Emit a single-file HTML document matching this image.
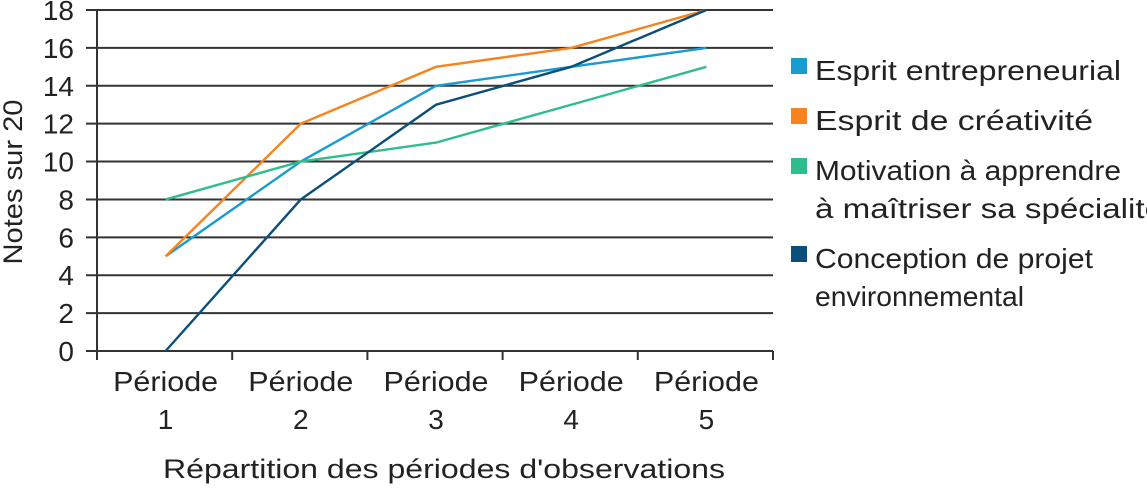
<!DOCTYPE html>
<html><head><meta charset="utf-8"><style>
body{margin:0;background:#fff;}
svg text{font-family:"Liberation Sans","DejaVu Sans",sans-serif;fill:#222;}
</style></head><body>
<svg id="chart" width="1147" height="488" viewBox="0 0 1147 488">
<g id="grid"></g><g id="series"></g><g id="legend"></g>
<text transform="translate(22,182) rotate(-90)" text-anchor="middle" font-size="27" textLength="165" lengthAdjust="spacingAndGlyphs">Notes sur 20</text>
<text x="444" y="478" text-anchor="middle" font-size="27" textLength="562" lengthAdjust="spacingAndGlyphs">Répartition des périodes d'observations</text>
</svg>
<script>
const categories=["Période|1","Période|2","Période|3","Période|4","Période|5"];
const yTicks=[0,2,4,6,8,10,12,14,16,18];
const seriesNames=["Esprit entrepreneurial","Esprit de créativité","Motivation à apprendre|à maîtriser sa spécialité","Conception de projet|environnemental"];
const entrepreneurial=[5,10,14,15,16];
const creativite=[5,12,15,16,18];
const motivation=[8,10,11,13,15];
const conception=[0,8,13,15,18];
const colors=["#1a9bd0","#f7831f","#2ebd8c","#0a4f7a"];
const NS="http://www.w3.org/2000/svg";
const x0=97,x1=773,yb=351,yt=10;
const band=(x1-x0)/categories.length;
const xs=i=>x0+band*(i+0.5)+1;
const ys=v=>yb-(v/18)*(yb-yt);
function mk(t,a,p){const e=document.createElementNS(NS,t);for(const k in a)e.setAttribute(k,a[k]);p.appendChild(e);return e;}
const g=document.getElementById('grid');
yTicks.forEach(v=>{
 const l=mk('line',{x1:86,x2:x1,y1:ys(v),y2:ys(v),stroke:'#333','stroke-width':2},g);
 
 
 const t=mk('text',{x:74,y:ys(v)+10,'text-anchor':'end','font-size':28},g);t.textContent=v;
 
 
});
const ax=mk('line',{x1:x0,x2:x0,y1:yt,y2:yb+8,stroke:'#333','stroke-width':2},g);


for(let i=0;i<=categories.length;i++){
 const tk=mk('line',{x1:x0+band*i,x2:x0+band*i,y1:yb,y2:yb+9,stroke:'#333','stroke-width':2},g);
 
 
}
categories.forEach((c,i)=>{
 const p=c.split('|');
 p.forEach((s,j)=>{
  const a={x:xs(i),y:391+j*38,'text-anchor':'middle','font-size':28};
  if(j===0){a.textLength=105;a.lengthAdjust='spacingAndGlyphs';}
  const t=mk('text',a,g);t.textContent=s;
  
  });
});
const sg=document.getElementById('series');
[entrepreneurial,creativite,motivation,conception].forEach((d,k)=>{
 const pl=mk('polyline',{points:d.map((v,i)=>xs(i)+','+ys(v)).join(' '),fill:'none',stroke:colors[k],'stroke-width':2.4},sg);
 
 
});
const lg=document.getElementById('legend');
const lw=[305,0,0,0];
let ly=71;
seriesNames.forEach((n,k)=>{
 const r=mk('rect',{x:791,y:ly-13,width:16,height:16,fill:colors[k]},lg);
 
 
 n.split('|').forEach((s,j)=>{
  const t=mk('text',{x:815,y:ly+9+j*38,'font-size':28,textLength:Math.round(s.length*13.9),lengthAdjust:'spacingAndGlyphs'},lg);t.textContent=s;
  
  
 });
 ly+=n.split('|').length*38+12;
});
</script>
</body></html>
